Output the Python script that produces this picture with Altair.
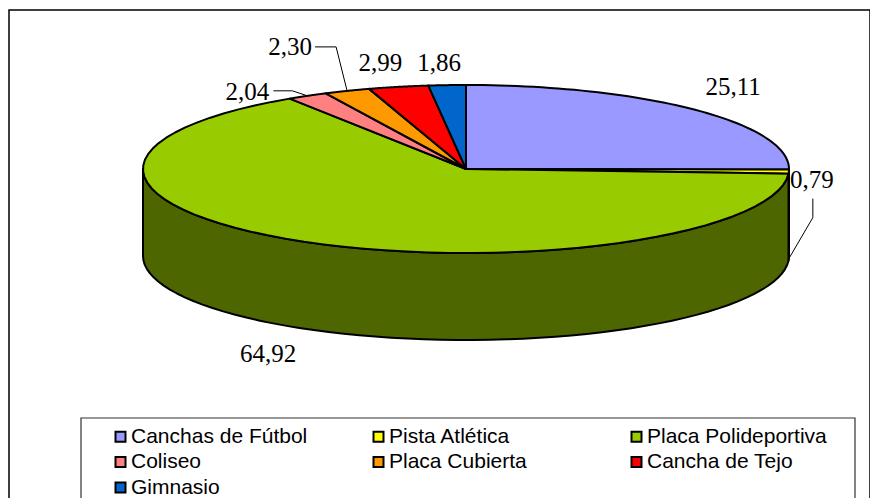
import altair as alt
import pandas as pd

# ---- data ----
names = ["Canchas de Fútbol", "Pista Atlética", "Placa Polideportiva",
         "Coliseo", "Placa Cubierta", "Cancha de Tejo", "Gimnasio"]
values = [25.11, 0.79, 64.92, 2.04, 2.30, 2.99, 1.86]

# ---- styles / layout ----
colors = ["#9999FF", "#FFFF00", "#99CC00", "#FF8080", "#FF9900", "#FF0000", "#0066CC"]
side_colors = ["#4D4D80", "#808000", "#4D6600", "#804040", "#804D00", "#800000", "#003366"]
# label offsets (px) from the rim point at each slice's mid angle
lab_dx = [38, 23, -36, -60, -57, -18, -8]
lab_dy = [-23, 8, 112, -4, -44, -24, -22]
# leader lines: two offsets from the label centre, then the rim (1 = top rim, 2 = bottom rim, 0 = none)
lead_end = [0, 2, 0, 1, 1, 0, 0]
l0x = [0, 1, 0, 26, 25, 0, 0]
l0y = [0, 19, 0, -1, 0, 0, 0]
l1x = [0, 1, 0, 45, 46, 0, 0]
l1y = [0, 38, 0, -1, 0, 0, 0]

W, H = 861, 500
CX, CY, RX, RY, D = 457, 159, 323, 84, 87
N = 60

df = pd.DataFrame({
    "idx": list(range(len(names))), "name": names, "value": values,
    "side": side_colors, "ldx": lab_dx, "ldy": lab_dy,
    "lend": lead_end, "l0x": l0x, "l0y": l0y, "l1x": l1x, "l1y": l1y,
})

xs = alt.Scale(domain=[0, W], nice=False, zero=False)
ys = alt.Scale(domain=[H, 0], nice=False, zero=False)
X = lambda f: alt.X(f, type="quantitative", scale=xs, axis=None)
Y = lambda f: alt.Y(f, type="quantitative", scale=ys, axis=None)

base = (
    alt.Chart(df)
    .transform_joinaggregate(total="sum(value)")
    .transform_window(cum="sum(value)", sort=[alt.SortField("idx")], frame=[None, 0])
    .transform_calculate(
        a0="2*PI*(datum.cum - datum.value)/datum.total",
        a1="2*PI*datum.cum/datum.total",
    )
    .transform_calculate(am="(datum.a0 + datum.a1)/2")
    .transform_calculate(
        rimx=f"{CX} + {RX}*sin(datum.am)",
        rimy=f"{CY} - {RY}*cos(datum.am)",
    )
)

# side walls (front half only)
side = (
    base.transform_calculate(s0="max(datum.a0, PI/2)", s1="min(datum.a1, 3*PI/2)")
    .transform_filter("datum.s1 > datum.s0")
    .transform_calculate(k=f"sequence(0, {2 * N + 3})")
    .transform_flatten(["k"])
    .transform_calculate(
        t=f"datum.k <= {N} ? datum.k/{N} : (datum.k <= {2 * N + 1} ? ({2 * N + 1} - datum.k)/{N} : 0)",
        bot=f"datum.k > {N} && datum.k <= {2 * N + 1} ? 1 : 0",
    )
    .transform_calculate(ang="datum.s0 + (datum.s1 - datum.s0)*datum.t")
    .transform_calculate(
        px=f"{CX} + {RX}*sin(datum.ang)",
        py=f"{CY} - {RY}*cos(datum.ang) + datum.bot*{D}",
    )
    .mark_line(stroke="black", strokeWidth=2, strokeJoin="round")
    .encode(x=X("px"), y=Y("py"), order=alt.Order("k:Q"), detail="name:N",
            fill=alt.Fill("side:N", scale=None, legend=None))
)

# top faces
top = (
    base.transform_calculate(k=f"sequence(0, {N + 3})")
    .transform_flatten(["k"])
    .transform_calculate(
        t=f"clamp((datum.k - 1)/{N}, 0, 1)",
        onrim=f"datum.k >= 1 && datum.k <= {N + 1} ? 1 : 0",
    )
    .transform_calculate(ang="datum.a0 + (datum.a1 - datum.a0)*datum.t")
    .transform_calculate(
        px=f"datum.onrim ? {CX} + {RX}*sin(datum.ang) : {CX}",
        py=f"datum.onrim ? {CY} - {RY}*cos(datum.ang) : {CY}",
    )
    .mark_line(stroke="black", strokeWidth=2, strokeJoin="round")
    .encode(
        x=X("px"), y=Y("py"), order=alt.Order("k:Q"), detail="name:N",
        fill=alt.Fill("name:N", scale=alt.Scale(domain=names, range=colors),
                      legend=alt.Legend(
                          title=None, orient="none", legendX=101, legendY=416,
                          direction="horizontal", columns=3, gridAlign="all",
                          columnPadding=57, rowPadding=3.5, padding=0,
                          symbolType="square", symbolSize=100,
                          symbolStrokeColor="black", symbolStrokeWidth=2,
                          labelFont="Liberation Sans", labelFontSize=21,
                          labelColor="black", labelOffset=0, labelLimit=400)),
    )
)

# value labels
labels = (
    base.transform_calculate(
        lx="datum.rimx + datum.ldx", ly="datum.rimy + datum.ldy",
        txt="replace(format(datum.value, '.2f'), '.', ',')",
    )
    .mark_text(font="Liberation Serif", fontSize=25, color="black",
               align="center", baseline="middle")
    .encode(x=X("lx"), y=Y("ly"), text="txt:N")
)

# leader lines
leaders = (
    base.transform_filter("datum.lend > 0")
    .transform_calculate(lx="datum.rimx + datum.ldx", ly="datum.rimy + datum.ldy",
                         k="sequence(0, 3)")
    .transform_flatten(["k"])
    .transform_calculate(
        px="datum.k == 0 ? datum.lx + datum.l0x : (datum.k == 1 ? datum.lx + datum.l1x : datum.rimx)",
        py=f"datum.k == 0 ? datum.ly + datum.l0y : (datum.k == 1 ? datum.ly + datum.l1y : datum.rimy + (datum.lend == 2 ? {D} : 0))",
    )
    .mark_line(stroke="black", strokeWidth=1)
    .encode(x=X("px"), y=Y("py"), order=alt.Order("k:Q"), detail="name:N")
)

legend_box = (
    alt.Chart(pd.DataFrame({"box": [0]}))
    .mark_rect(fill=None, stroke="#333333", strokeWidth=1.2)
    .encode(x=alt.value(72), x2=alt.value(846), y=alt.value(408), y2=alt.value(530))
)

chart = (
    alt.layer(side, top, leaders, labels, legend_box)
    .resolve_scale(fill="independent")
    .properties(width=W, height=H, padding={"left": 1, "top": 2, "right": 0, "bottom": 0},
                autosize=alt.AutoSizeParams(type="none"), background="white")
    .configure_view(stroke="black", strokeWidth=1.5)
)

chart.save("out.html", embed_options={"renderer": "svg", "actions": False})
